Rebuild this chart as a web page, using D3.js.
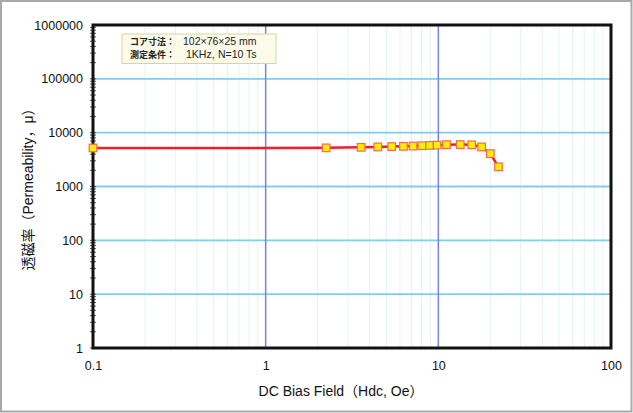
<!DOCTYPE html>
<html><head><meta charset="utf-8">
<script src="https://cdn.jsdelivr.net/npm/d3@7/dist/d3.min.js"></script>
<style>
html,body{margin:0;padding:0;background:#fff;}
svg{display:block;}
</style></head>
<body>
<script>
// Data
const biasField = [0.1, 2.24, 3.57, 4.46, 5.37, 6.28, 7.14, 8.03, 8.9, 9.83, 11.15, 13.4, 15.6, 17.8, 20.0, 22.3];
const permeability = [5200, 5220, 5340, 5430, 5510, 5575, 5650, 5720, 5800, 5870, 5990, 6000, 5950, 5430, 4080, 2320];
const xTickValues = [0.1, 1, 10, 100];
const xTickLabels = ["0.1", "1", "10", "100"];
const yTickValues = [1, 10, 100, 1000, 10000, 100000, 1000000];
const yTickLabels = ["1", "10", "100", "1000", "10000", "100000", "1000000"];
const noteKeys = ["コア寸法：", "測定条件："];
const noteValues = [["102×76×25 mm"], ["1KHz,", "N=10 Ts"]];
const xTitle = "DC Bias Field（Hdc, Oe）";
const yTitle = "透磁率（Permeability，μ）";

const FONT = "'Liberation Sans','Noto Sans CJK JP',Arial,sans-serif";
const CJK = "'Noto Sans CJK JP','Liberation Sans',sans-serif";

const W = 633, H = 413;
const svg = d3.select("body").append("svg").attr("width", W).attr("height", H);

// outer frame
svg.append("rect").attr("x", 1).attr("y", 1).attr("width", W - 2.5).attr("height", H - 2.5)
  .attr("fill", "#fff").attr("stroke", "#a8a8a8").attr("stroke-width", 2);

const L = 93, R = 611, T = 25, B = 348;
const x = d3.scaleLog().domain([0.1, 100]).range([L, R]);
const y = d3.scaleLog().domain([1, 1000000]).range([B, T]);

// minor vertical gridlines
const minorX = [];
[0.1, 1, 10].forEach(d => { for (let k = 2; k <= 9; k++) minorX.push(d * k); });
svg.append("g").selectAll("line").data(minorX).join("line")
  .attr("x1", d => x(d)).attr("x2", d => x(d)).attr("y1", T).attr("y2", B)
  .attr("stroke", "#e0f3f9").attr("stroke-width", 1);

// major horizontal gridlines
svg.append("g").selectAll("line").data(yTickValues.slice(1, -1)).join("line")
  .attr("x1", L).attr("x2", R).attr("y1", d => y(d)).attr("y2", d => y(d))
  .attr("stroke", "#82cdf0").attr("stroke-width", 1.8);

// major vertical gridlines
svg.append("g").selectAll("line").data(xTickValues.slice(1, -1)).join("line")
  .attr("x1", d => x(d)).attr("x2", d => x(d)).attr("y1", T).attr("y2", B)
  .attr("stroke", "#7384e2").attr("stroke-width", 1.5);

// y minor ticks on left axis
const minorY = [];
yTickValues.slice(0, -1).forEach(d => { for (let k = 1; k <= 9; k++) minorY.push(d * k); });
svg.append("g").selectAll("line").data(minorY).join("line")
  .attr("x1", L - 3).attr("x2", L + 3).attr("y1", d => y(d)).attr("y2", d => y(d))
  .attr("stroke", "#555").attr("stroke-width", 1);

// axes via d3 axis for labels
const yAxis = d3.axisLeft(y).tickValues(yTickValues).tickFormat((d, i) => yTickLabels[i]).tickSize(0).tickPadding(10);
const gy = svg.append("g").attr("transform", `translate(${L},0)`).call(yAxis);
gy.select(".domain").remove();
gy.selectAll("text").style("font-size", "12.5px").style("font-family", FONT).attr("fill", "#111");

const xAxis = d3.axisBottom(x).tickValues(xTickValues).tickFormat((d, i) => xTickLabels[i]).tickSize(0).tickPadding(13);
const gx = svg.append("g").attr("transform", `translate(0,${B})`).call(xAxis);
gx.select(".domain").remove();
gx.selectAll("text").style("font-size", "12.5px").style("font-family", FONT).attr("fill", "#111");

// plot frame
svg.append("rect").attr("x", L).attr("y", T).attr("width", R - L).attr("height", B - T)
  .attr("fill", "none").attr("stroke", "#111").attr("stroke-width", 3);

// note box
const nb = svg.append("g");
nb.append("rect").attr("x", 122).attr("y", 34).attr("width", 154).attr("height", 29.5)
  .attr("fill", "#fbfbea").attr("stroke", "#d6d6a4").attr("stroke-width", 1);
const rowY = [45, 58];
nb.selectAll("text.k").data(noteKeys).join("text").attr("class", "k")
  .attr("x", 130).attr("y", (d, i) => rowY[i])
  .style("font-size", "9px").style("font-family", CJK).style("font-weight", "bold")
  .attr("fill", "#222").text(d => d);
const valX = [[183], [186, 218]];
noteValues.forEach((vals, i) => {
  vals.forEach((v, j) => {
    nb.append("text").attr("x", valX[i][j]).attr("y", rowY[i])
      .style("font-size", "10.5px").style("font-family", FONT)
      .attr("fill", "#222").text(v);
  });
});

// data line
const line = d3.line().x((d, i) => x(biasField[i])).y(d => y(d));
svg.append("path").datum(permeability).attr("d", line)
  .attr("fill", "none").attr("stroke", "#f41c2a").attr("stroke-width", 2.5);

// markers
svg.append("g").selectAll("rect").data(permeability).join("rect")
  .attr("x", (d, i) => x(biasField[i]) - 3.8).attr("y", d => y(d) - 3.8)
  .attr("width", 7.6).attr("height", 7.6)
  .attr("fill", "#ffee00").attr("stroke", "#f26a50").attr("stroke-width", 1.2);

// titles
svg.append("text").attr("x", 341).attr("y", 396).attr("text-anchor", "middle")
  .style("font-size", "14px").style("font-family", FONT).attr("fill", "#111")
  .text(xTitle);
svg.append("text").attr("transform", "translate(33,186) rotate(-90)").attr("text-anchor", "middle")
  .style("font-size", "14px").style("font-family", FONT).attr("fill", "#111")
  .text(yTitle);
</script>
</body></html>
